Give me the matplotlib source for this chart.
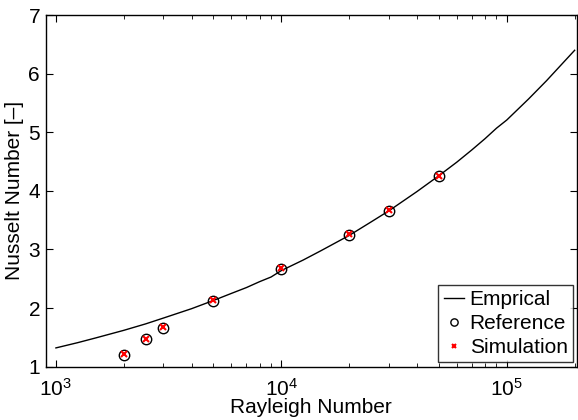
import matplotlib
matplotlib.use("Agg")
import matplotlib.pyplot as plt
from matplotlib.ticker import LogLocator, FixedLocator

plt.rcParams['font.family'] = ['Liberation Sans', 'DejaVu Sans']
plt.rcParams['mathtext.fontset'] = 'custom'
plt.rcParams['mathtext.rm'] = 'Liberation Sans'
plt.rcParams['mathtext.it'] = 'Liberation Sans:italic'

emp_ra = [1000, 1250, 1500, 2000, 2500, 3000, 4000, 5000, 6000, 7000, 8000, 9000,
          10000, 12500, 15000, 20000, 25000, 30000, 40000, 50000, 60000, 70000, 80000, 90000,
          100000, 125000, 150000, 200000]
emp_nu = [1.32, 1.41, 1.49, 1.62, 1.73, 1.83, 1.99, 2.13, 2.25, 2.35, 2.45, 2.53,
          2.64, 2.82, 2.98, 3.24, 3.47, 3.66, 3.99, 4.26, 4.49, 4.70, 4.89, 5.07,
          5.21, 5.57, 5.88, 6.40]

# Data points
pt_ra = [2000, 2500, 3000, 5000, 10000, 20000, 30000, 50000]
ref_nu = [1.20, 1.47, 1.66, 2.12, 2.66, 3.25, 3.66, 4.25]
sim_nu = [1.21, 1.48, 1.67, 2.13, 2.68, 3.27, 3.67, 4.26]

yticks = [1, 2, 3, 4, 5, 6, 7]

fig = plt.figure(figsize=(5.78, 4.20), dpi=100)
ax = fig.add_axes([0.0789, 0.127, 0.9195, 0.837])

ax.plot(emp_ra, emp_nu, color='black', lw=1.0, label='Emprical')
ax.plot(pt_ra, ref_nu, linestyle='none', marker='o', markersize=7.5,
        markerfacecolor='none', markeredgecolor='black', markeredgewidth=1.0,
        label='Reference')
ax.plot(pt_ra, sim_nu, linestyle='none', marker='x', markersize=4.5,
        color='red', markeredgewidth=1.5, label='Simulation')

ax.set_xscale('log')
ax.set_xlim(900, 2.05e5)
ax.set_ylim(1, 7)
ax.yaxis.set_major_locator(FixedLocator(yticks))
ax.xaxis.set_major_locator(LogLocator(base=10, numticks=10))
ax.xaxis.set_minor_locator(LogLocator(base=10, subs=range(2, 10), numticks=10))

ax.tick_params(which='both', direction='in', top=True, right=True, labelsize=15)
ax.tick_params(axis='x', which='both', pad=8)
ax.tick_params(axis='y', which='both', pad=4)
ax.tick_params(which='major', length=5, width=0.8)
ax.tick_params(which='minor', length=3, width=0.6)
for s in ax.spines.values():
    s.set_linewidth(1.0)

ax.set_xlabel('Rayleigh Number', fontsize=15, labelpad=-1)
ax.set_ylabel('Nusselt Number [–]', fontsize=15, labelpad=3)

leg = ax.legend(loc='lower right', fontsize=15, frameon=True, fancybox=False,
                edgecolor='black', borderpad=0.25, labelspacing=0.25,
                handlelength=1.0, handletextpad=0.25, borderaxespad=0.2,
                markerscale=0.7)
leg.get_frame().set_linewidth(1.0)

fig.savefig('out.png', dpi=100)
